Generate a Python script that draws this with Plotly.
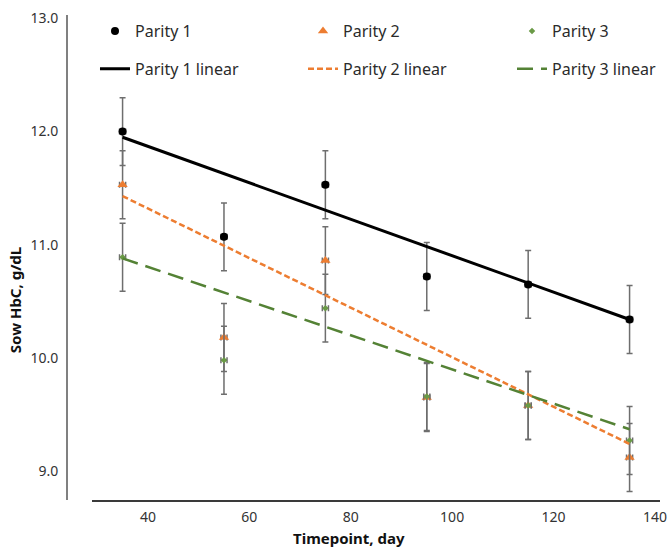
import plotly.graph_objects as go

days = [35, 55, 75, 95, 115, 135]
p1 = [12.00, 11.07, 11.53, 10.72, 10.65, 10.34]
p2 = [11.53, 10.18, 10.86, 9.65, 9.58, 9.12]
p3 = [10.89, 9.98, 10.44, 9.66, 9.58, 9.27]
sem_y = [0.30, 0.30, 0.30, 0.30, 0.30, 0.30]
sem_x = 0.6

fit_days = [35, 135]
fit_p1 = [11.95, 10.34]
fit_p2 = [11.43, 9.24]
fit_p3 = [10.88, 9.37]

names = ["Parity 1", "Parity 2", "Parity 3"]
line_names = ["Parity 1 linear", "Parity 2 linear", "Parity 3 linear"]
yticks = [9.0, 10.0, 11.0, 12.0, 13.0]
x_title = "Timepoint, day"
y_title = "Sow HbC, g/dL"

FONT = "Noto Sans"
err_col = "#6e6e6e"

# legend layout (one legend per entry: 3 columns x 2 rows)
col_x = [0.0472, 0.398, 0.7504]
row_y = [0.967, 0.889]

fig = go.Figure()

marker_specs = [
    (p1, dict(symbol="circle", size=8, color="#000000")),
    (p2, dict(symbol="triangle-up", size=9, color="#ED7D31")),
    (p3, dict(symbol="diamond", size=5, color="#6a9a46")),
]
for i, (name, (vals, mk)) in enumerate(zip(names, marker_specs)):
    fig.add_trace(go.Scatter(
        x=days, y=vals, mode="markers", name=name, marker=mk,
        error_y=dict(type="data", array=sem_y, color=err_col, thickness=1.5, width=3),
        error_x=dict(type="constant", value=sem_x, color=err_col, thickness=1.5, width=3),
        legend="legend" if i == 0 else f"legend{i + 1}", showlegend=True,
    ))

line_specs = [
    (fit_p1, dict(color="#000000", width=3, dash="solid")),
    (fit_p2, dict(color="#ED7D31", width=2.5, dash="6px,3px")),
    (fit_p3, dict(color="#548235", width=2.5, dash="16px,8px")),
]
for i, (name, (vals, ln)) in enumerate(zip(line_names, line_specs)):
    fig.add_trace(go.Scatter(
        x=fit_days, y=vals, mode="lines", name=name, line=ln,
        legend=f"legend{i + 4}", showlegend=True,
    ))

leg_common = dict(orientation="h", xanchor="left", yanchor="middle",
                  font=dict(family=FONT, size=16, color="#2b2b2b"),
                  bgcolor="rgba(0,0,0,0)", visible=True)
legends = {}
for r in range(2):
    for c in range(3):
        k = r * 3 + c
        key = "legend" if k == 0 else f"legend{k + 1}"
        legends[key] = dict(x=col_x[c], y=row_y[r], **leg_common)

fig.update_layout(
    width=669, height=548,
    showlegend=True,
    margin=dict(l=67, r=9, t=15, b=48, autoexpand=False),
    plot_bgcolor="white", paper_bgcolor="white",
    font=dict(family=FONT, size=14, color="#333333"),
    xaxis=dict(
        domain=[0.042, 1], range=[28.95, 141], tick0=0, dtick=20,
        showline=True, linecolor="#3a3a3a", linewidth=1.5,
        showgrid=False, zeroline=False, ticks="",
        ticklabelstandoff=3, automargin=False,
        tickfont=dict(family=FONT, size=14, color="#333333"),
    ),
    yaxis=dict(
        anchor="free", position=0, range=[8.745, 13.03],
        tickvals=yticks, tickformat=".1f",
        showline=True, linecolor="#808080", linewidth=2,
        showgrid=False, zeroline=False, ticks="",
        ticklabelstandoff=5, automargin=False,
        tickfont=dict(family=FONT, size=14, color="#333333"),
    ),
    annotations=[
        dict(text=f"<b>{x_title}</b>", xref="paper", yref="paper",
             x=0.4755, y=-0.079, xanchor="center", yanchor="middle",
             showarrow=False, font=dict(family=FONT, size=15, color="#111111")),
        dict(text=f"<b>{y_title}</b>", xref="paper", yref="paper",
             x=-0.0877, y=0.412, xanchor="center", yanchor="middle", textangle=-90,
             showarrow=False, font=dict(family=FONT, size=15, color="#111111")),
    ],
    **legends,
)

fig.write_html(
    "out.html",
    config={"displayModeBar": False},
    post_script="document.body.style.margin='0';document.body.style.overflow='hidden';",
)
